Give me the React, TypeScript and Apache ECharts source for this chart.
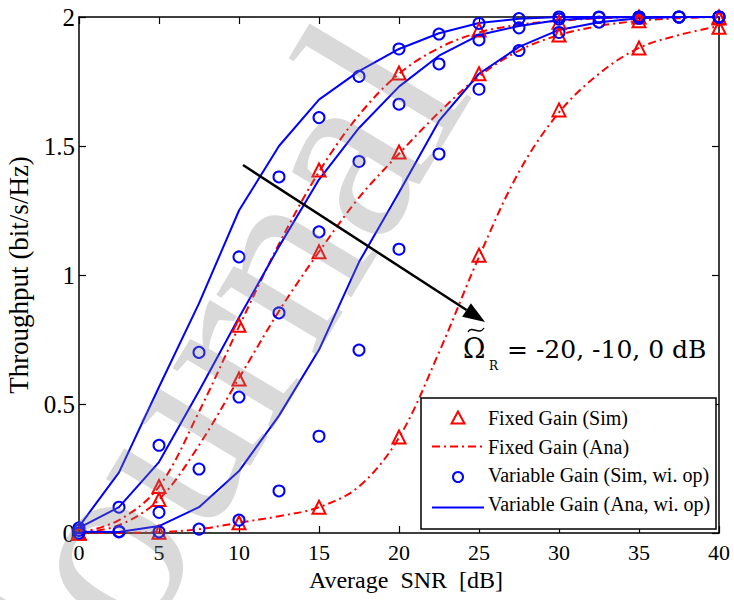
import React, { useEffect, useRef } from "react";
import * as echarts from "echarts";

// SNR grid of the analytical curves and variable-gain simulations (dB)
const snrFine = [0, 2.5, 5, 7.5, 10, 12.5, 15, 17.5, 20, 22.5, 25, 27.5, 30, 32.5, 35, 37.5, 40];
// SNR grid of the fixed-gain simulations (dB)
const snrCoarse = [0, 5, 10, 15, 20, 25, 30, 35, 40];

// Fixed gain, simulation (triangles)
const fixedSimA = [0, 0.18, 0.805, 1.407, 1.783, 1.95, 1.98, 2.0, 2.0];
const fixedSimB = [0, 0.13, 0.597, 1.09, 1.477, 1.78, 1.93, 1.985, 1.996];
const fixedSimC = [0, 0.003, 0.04, 0.1, 0.372, 1.077, 1.64, 1.88, 1.96];

// Fixed gain, analysis (dash-dot)
const fixedAnaA = [0, 0.05, 0.18, 0.47, 0.8, 1.12, 1.4, 1.62, 1.78, 1.88, 1.94, 1.97, 1.985, 1.995, 2.0, 2.0, 2.0];
const fixedAnaB = [0, 0.03, 0.13, 0.34, 0.6, 0.86, 1.09, 1.3, 1.47, 1.63, 1.77, 1.87, 1.93, 1.965, 1.985, 1.995, 2.0];
const fixedAnaC = [0, 0.001, 0.003, 0.015, 0.04, 0.065, 0.1, 0.18, 0.37, 0.7, 1.07, 1.4, 1.63, 1.78, 1.88, 1.93, 1.965];

// Variable gain, simulation (circles)
const varSimA = [0.02, 0.1, 0.34, 0.7, 1.07, 1.38, 1.61, 1.77, 1.876, 1.934, 1.975, 1.994, 2.0, 2.0, 2.0, 2.0, 2.0];
const varSimB = [0.01, 0.006, 0.08, 0.248, 0.527, 0.853, 1.167, 1.44, 1.662, 1.818, 1.911, 1.958, 1.992, 1.998, 2.0, 2.0, 2.0];
const varSimC = [0.0, 0.004, 0.004, 0.015, 0.05, 0.163, 0.375, 0.709, 1.1, 1.469, 1.72, 1.87, 1.94, 1.98, 1.995, 2.0, 2.0];

// Variable gain, analysis (solid)
const varAnaA = [0.025, 0.235, 0.566, 0.89, 1.25, 1.5, 1.68, 1.79, 1.876, 1.937, 1.977, 1.993, 2.0, 2.0, 2.0, 2.0, 2.0];
const varAnaB = [0.02, 0.1, 0.275, 0.55, 0.835, 1.11, 1.37, 1.57, 1.73, 1.85, 1.93, 1.965, 1.988, 1.997, 2.0, 2.0, 2.0];
const varAnaC = [0.005, 0.004, 0.027, 0.1, 0.24, 0.455, 0.71, 1.05, 1.32, 1.597, 1.78, 1.884, 1.95, 1.98, 1.995, 2.0, 2.0];

const legendNames = [
  "Fixed Gain (Sim)",
  "Fixed Gain (Ana)",
  "Variable Gain (Sim, wi. op)",
  "Variable Gain (Ana, wi. op)",
];

const xTitle = "Average  SNR  [dB]";
const yTitle = "Throughput (bit/s/Hz)";
const annotationText = "= -20, -10, 0 dB";
const watermark = "Journal";

const SERIF = "'Liberation Serif', 'Times New Roman', serif";
const MATH = "'DejaVu Serif', serif";
const RED = "#ff0000";
const BLUE = "#0000ff";
const DASHDOT = [8, 4, 2, 4];

const zip = (xs: number[], ys: number[]) => xs.map((x, i) => [x, ys[i]]);

const txt = (text: string, x: number, y: number, font: string, size: number, extra: any = {}) => ({
  type: "text",
  z: 10,
  x,
  y,
  ...extra,
  style: {
    text,
    fill: "#000",
    fontFamily: font,
    fontSize: size,
    align: "left",
    verticalAlign: "middle",
    textAlign: "left",
    textVerticalAlign: "middle",
    ...(extra.style || {}),
  },
});

export default function App() {
  const ref = useRef<HTMLDivElement>(null);

  useEffect(() => {
    if (!ref.current) return;
    const chart = echarts.init(ref.current, null, { renderer: "svg" });

    const fixedSim = (d: number[]) => ({
      name: legendNames[0],
      type: "scatter",
      symbol: "triangle",
      symbolSize: 13,
      itemStyle: { color: "rgba(255,255,255,0)", borderColor: RED, borderWidth: 2, opacity: 1 },
      data: zip(snrCoarse, d),
      z: 3,
    });
    const fixedAna = (d: number[]) => ({
      name: legendNames[1],
      type: "line",
      symbol: "none",
      smooth: 0.35,
      lineStyle: { color: RED, width: 2, type: DASHDOT },
      itemStyle: { color: RED },
      data: zip(snrFine, d),
      z: 2,
    });
    const varSim = (d: number[]) => ({
      name: legendNames[2],
      type: "scatter",
      symbol: "circle",
      symbolSize: 11,
      itemStyle: { color: "rgba(255,255,255,0)", borderColor: BLUE, borderWidth: 2, opacity: 1 },
      data: zip(snrFine, d),
      z: 4,
    });
    const varAna = (d: number[]) => ({
      name: legendNames[3],
      type: "line",
      symbol: "none",
      lineStyle: { color: BLUE, width: 2, type: "solid" },
      itemStyle: { color: BLUE },
      data: zip(snrFine, d),
      z: 3,
    });

    const axisLine = { show: true, onZero: false, lineStyle: { color: "#000", width: 1.5 } };
    const axisTick = { show: true, inside: true, length: 7, lineStyle: { color: "#000", width: 1.2 } };

    // arrow geometry
    const ax1 = 243, ay1 = 165, tipX = 485, tipY = 322;
    const dx = tipX - ax1, dy = tipY - ay1, len = Math.hypot(dx, dy);
    const ux = dx / len, uy = dy / len;
    const headL = 22, headW = 8;
    const bx = tipX - headL * ux, by = tipY - headL * uy;

    // legend layout
    const lgX = 421, lgY = 398, lgW = 295, lgH = 131;
    const rowY = [418, 446.5, 475, 503.5];
    const iconX1 = 432, iconX2 = 484, iconC = 458, textX = 488;

    chart.setOption({
      animation: false,
      backgroundColor: "#fff",
      grid: { left: 79, right: 15, top: 17, bottom: 67, containLabel: false, outerBoundsMode: "none" },
      xAxis: [
        {
          type: "value",
          min: 0,
          max: 40,
          interval: 5,
          position: "bottom",
          axisLine,
          axisTick,
          splitLine: { show: false },
          axisLabel: { color: "#000", fontFamily: SERIF, fontSize: 22, margin: 8 },
          name: xTitle,
          nameLocation: "middle",
          nameGap: 35,
          nameTextStyle: { color: "#000", fontFamily: SERIF, fontSize: 24, padding: [0, 0, 0, 14] },
        },
        {
          type: "value",
          min: 0,
          max: 40,
          interval: 5,
          position: "top",
          axisLine,
          axisTick,
          splitLine: { show: false },
          axisLabel: { show: false },
        },
      ],
      yAxis: [
        {
          type: "value",
          min: 0,
          max: 2,
          interval: 0.5,
          position: "left",
          axisLine,
          axisTick,
          splitLine: { show: false },
          axisLabel: { color: "#000", fontFamily: SERIF, fontSize: 25, margin: 4 },
          name: yTitle,
          nameLocation: "middle",
          nameGap: 41,
          nameTextStyle: { color: "#000", fontFamily: SERIF, fontSize: 27 },
        },
        {
          type: "value",
          min: 0,
          max: 2,
          interval: 0.5,
          position: "right",
          axisLine,
          axisTick,
          splitLine: { show: false },
          axisLabel: { show: false },
        },
      ],
      series: [
        fixedAna(fixedAnaA),
        fixedAna(fixedAnaB),
        fixedAna(fixedAnaC),
        fixedSim(fixedSimA),
        fixedSim(fixedSimB),
        fixedSim(fixedSimC),
        varAna(varAnaA),
        varAna(varAnaB),
        varAna(varAnaC),
        varSim(varSimA),
        varSim(varSimB),
        varSim(varSimC),
      ],
      graphic: [
        // legend box
        {
          type: "rect",
          z: 5,
          shape: { x: lgX, y: lgY, width: lgW, height: lgH },
          style: { fill: "#fff", stroke: "#000", lineWidth: 1.5 },
        },
        {
          type: "polygon",
          z: 6,
          shape: {
            points: [
              [iconC, rowY[0] - 6.5],
              [iconC - 6.5, rowY[0] + 5.5],
              [iconC + 6.5, rowY[0] + 5.5],
            ],
          },
          style: { fill: "none", stroke: RED, lineWidth: 2 },
        },
        {
          type: "line",
          z: 6,
          shape: { x1: iconX1, y1: rowY[1], x2: iconX2, y2: rowY[1] },
          style: { stroke: RED, lineWidth: 2, lineDash: DASHDOT },
        },
        {
          type: "circle",
          z: 6,
          shape: { cx: iconC, cy: rowY[2] + 2, r: 5 },
          style: { fill: "none", stroke: BLUE, lineWidth: 2 },
        },
        {
          type: "line",
          z: 6,
          shape: { x1: iconX1, y1: rowY[3] + 4, x2: iconX2, y2: rowY[3] + 4 },
          style: { stroke: BLUE, lineWidth: 2 },
        },
        ...legendNames.map((n, i) => txt(n, textX, rowY[i], SERIF, 20, { z: 6 })),
        // arrow
        {
          type: "line",
          z: 10,
          shape: { x1: ax1, y1: ay1, x2: bx, y2: by },
          style: { stroke: "#000", lineWidth: 2.5 },
        },
        {
          type: "polygon",
          z: 10,
          shape: {
            points: [
              [tipX, tipY],
              [bx - headW * uy, by + headW * ux],
              [bx + headW * uy, by - headW * ux],
            ],
          },
          style: { fill: "#000" },
        },
        // annotation: tilde-Omega with subscript R
        txt("\u03A9", 463, 348, MATH, 27),
        {
          type: "bezierCurve",
          z: 10,
          shape: { x1: 468, y1: 332, cpx1: 472, cpy1: 325, cpx2: 479, cpy2: 336, x2: 484, y2: 328 },
          style: { stroke: "#000", lineWidth: 1.4, fill: "none" },
        },
        txt("R", 489, 366, MATH, 12),
        txt(annotationText, 507, 349, MATH, 25),
        // watermark
        {
          type: "text",
          z: 100,
          x: 14,
          y: 692,
          rotation: (59 * Math.PI) / 180,
          silent: true,
          style: {
            text: watermark,
            fill: "rgba(128,128,128,0.3)",
            fontFamily: SERIF,
            fontSize: 255,
            align: "left",
            verticalAlign: "middle",
            textAlign: "left",
            textVerticalAlign: "middle",
          },
        },
      ],
    });

    return () => chart.dispose();
  }, []);

  return (
    <div
      ref={ref}
      style={{ position: "absolute", left: 0, top: 0, width: 734, height: 600, background: "#fff" }}
    />
  );
}
